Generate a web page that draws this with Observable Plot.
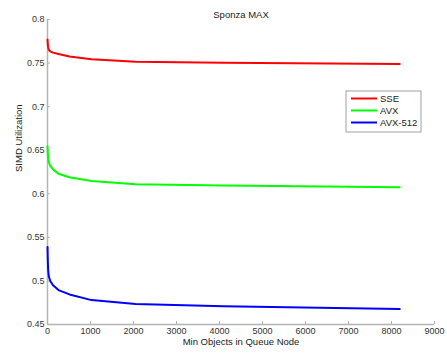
<!DOCTYPE html>
<html><head><meta charset="utf-8">
<script src="https://cdn.jsdelivr.net/npm/d3@7"></script>
<script src="https://cdn.jsdelivr.net/npm/@observablehq/plot@0.6"></script>
<style>
html,body{margin:0;padding:0;background:#fff;}
#chart{position:relative;width:447px;height:356px;}
</style>
</head><body><div id="chart"></div>
<script>
const title = "Sponza MAX";
const xLabel = "Min Objects in Queue Node";
const yLabel = "SIMD Utilization";
const seriesNames = ["SSE", "AVX", "AVX-512"];
const seriesColors = ["#ff0000", "#00ff00", "#0000ff"];
const xs = [1, 2, 4, 8, 16, 32, 64, 128, 256, 512, 1024, 2048, 4096, 8192];
const sse = [0.777, 0.776, 0.774, 0.771, 0.768, 0.765, 0.7635, 0.762, 0.7605, 0.7575, 0.7545, 0.7515, 0.7503, 0.749];
const avx = [0.6545, 0.653, 0.65, 0.646, 0.641, 0.636, 0.632, 0.628, 0.623, 0.619, 0.6148, 0.611, 0.6095, 0.6075];
const avx512 = [0.539, 0.535, 0.53, 0.522, 0.512, 0.505, 0.5, 0.495, 0.4895, 0.4845, 0.478, 0.4735, 0.471, 0.4678];
const xTicks = [0, 1000, 2000, 3000, 4000, 5000, 6000, 7000, 8000, 9000];
const yTicks = [0.45, 0.5, 0.55, 0.6, 0.65, 0.7, 0.75, 0.8];

const allSeries = [sse, avx, avx512];
const rows = [];
allSeries.forEach((vals, i) => vals.forEach((v, j) => rows.push({x: xs[j], y: v, s: seriesNames[i]})));

const W = 447, H = 356, mL = 47, mR = 13, mT = 19, mB = 32;
const axisGrey = "#b4b4b4";
const font = "'Liberation Sans', Arial, Helvetica, sans-serif";

const plot = Plot.plot({
  width: W, height: H,
  marginLeft: mL, marginRight: mR, marginTop: mT, marginBottom: mB,
  style: {fontFamily: font, fontSize: "9px", color: "#333", background: "#fff"},
  x: {domain: [0, 9000]},
  y: {domain: [0.45, 0.8]},
  color: {domain: seriesNames, range: seriesColors},
  marks: [
    Plot.axisX(xTicks, {tickSize: 0, tickPadding: 3, tickFormat: d => String(d), label: null, fontSize: 9}),
    Plot.axisY(yTicks, {tickSize: 0, tickPadding: 3, tickFormat: d => String(d), label: null, fontSize: 9}),
    Plot.tickY(yTicks, {y: d => d, stroke: axisGrey, insetRight: W - mL - mR - 3}),
    Plot.tickX(xTicks, {x: d => d, stroke: axisGrey, insetTop: H - mT - mB - 3}),
    Plot.ruleX([0], {stroke: axisGrey, strokeWidth: 1.5}),
    Plot.ruleY([0.45], {stroke: axisGrey, strokeWidth: 1.5}),
    Plot.line(rows, {x: "x", y: "y", z: "s", stroke: "s", strokeWidth: 2}),
    Plot.text([title], {frameAnchor: "top", dy: -8, fontSize: 9.5, fill: "#222"}),
    Plot.text([xLabel], {frameAnchor: "bottom", dy: 20, fontSize: 9.5, fill: "#222"}),
    Plot.text([yLabel], {frameAnchor: "left", dx: -29, rotate: -90, fontSize: 9.5, fill: "#222"})
  ]
});
document.getElementById("chart").appendChild(plot);

// legend box (inside the axes, drawn in pixels)
const svg = d3.select(plot);
const lg = svg.append("g").attr("transform", "translate(346,91)");
lg.append("rect").attr("width", 75).attr("height", 41).attr("fill", "#fff").attr("stroke", "#a0a0a0").attr("stroke-width", 1);
seriesNames.forEach((name, i) => {
  const yy = 7.5 + i * 12;
  lg.append("line").attr("x1", 5).attr("x2", 31).attr("y1", yy).attr("y2", yy)
    .attr("stroke", seriesColors[i]).attr("stroke-width", 2);
  lg.append("text").attr("x", 34).attr("y", yy).attr("dy", "0.35em")
    .attr("text-anchor", "start")
    .attr("font-family", font).attr("font-size", 9.5).attr("fill", "#222").text(name);
});
</script></body></html>
